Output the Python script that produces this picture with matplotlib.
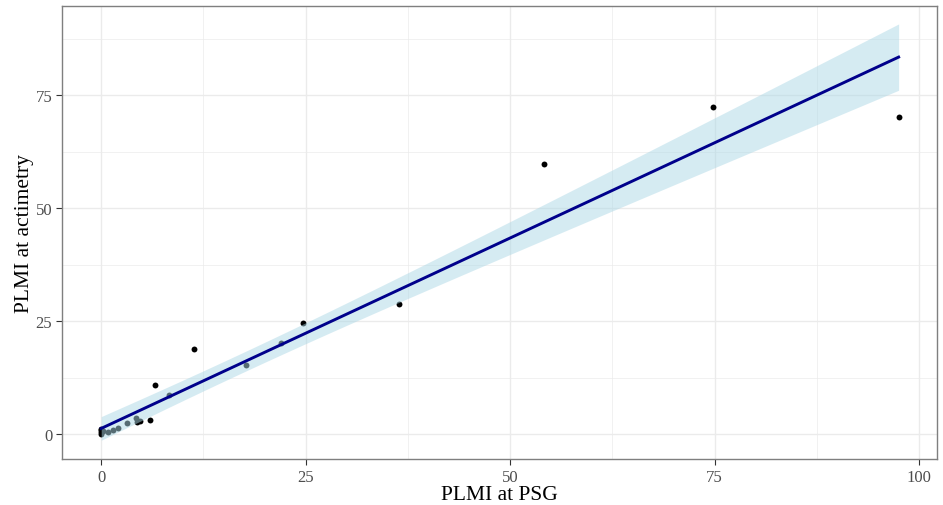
import matplotlib
matplotlib.use("Agg")
import matplotlib.pyplot as plt
import numpy as np

# ── data ──────────────────────────────────────────────────────────────────────
plmi_psg = [0.0, 0.0, 0.0, 0.0, 0.2, 0.8, 1.4, 2.1, 3.1, 4.2, 4.4, 4.7, 6.0,
            6.6, 8.3, 11.4, 17.7, 22.0, 24.7, 36.4, 54.1, 74.8, 97.5]
plmi_act = [0.0, 0.4, 0.8, 1.2, 0.6, 0.5, 0.9, 1.3, 2.4, 3.5, 2.6, 2.9, 3.2,
            10.8, 8.6, 18.8, 15.3, 20.1, 24.6, 28.8, 59.7, 72.3, 70.1]
x_ticks = [0, 25, 50, 75, 100]
y_ticks = [0, 25, 50, 75]
T_CRIT = 2.08   # 95% t quantile, df = n - 2

x = np.array(plmi_psg)
y = np.array(plmi_act)

# ── linear fit + 95% CI of the mean (like geom_smooth(method="lm")) ──────────
slope, intercept = np.polyfit(x, y, 1)
n = len(x)
resid = y - (intercept + slope * x)
s = np.sqrt(np.sum(resid ** 2) / (n - 2))
sxx = np.sum((x - x.mean()) ** 2)
xs = np.linspace(x.min(), x.max(), 200)
ys = intercept + slope * xs
se = s * np.sqrt(1 / n + (xs - x.mean()) ** 2 / sxx)

plt.rcParams["font.family"] = ["Liberation Serif", "DejaVu Serif"]

fig = plt.figure(figsize=(9.43, 5.06), dpi=100)
ax = fig.add_axes([0.0657, 0.091, 0.928, 0.895])

ax.scatter(x, y, s=18, color="black", zorder=2, linewidths=0)
ax.fill_between(xs, ys - T_CRIT * se, ys + T_CRIT * se,
                color="#add8e6", alpha=0.5, linewidth=0, zorder=3)
ax.plot(xs, ys, color="#00008b", linewidth=2.1, zorder=4)

ax.set_xlim(-4.8, 102.2)
ax.set_ylim(-5.5, 94.7)
ax.set_xticks(x_ticks)
ax.set_yticks(y_ticks)
ax.set_xticks([12.5, 37.5, 62.5, 87.5], minor=True)
ax.set_yticks([12.5, 37.5, 62.5, 87.5], minor=True)
ax.grid(which="major", color="#ebebeb", linewidth=1.0, zorder=0)
ax.grid(which="minor", color="#ebebeb", linewidth=0.5, zorder=0)
ax.set_axisbelow(True)

for sp in ax.spines.values():
    sp.set_color("#7f7f7f")
    sp.set_linewidth(1.0)
ax.tick_params(which="major", length=4, width=0.8, color="#333333",
               labelsize=12, labelcolor="#4d4d4d", pad=3)
ax.tick_params(which="minor", length=0)

ax.set_xlabel("PLMI at PSG", fontsize=15.5, labelpad=0.5)
ax.set_ylabel("PLMI at actimetry", fontsize=15.5, labelpad=1)

fig.savefig("out.png", dpi=100)
